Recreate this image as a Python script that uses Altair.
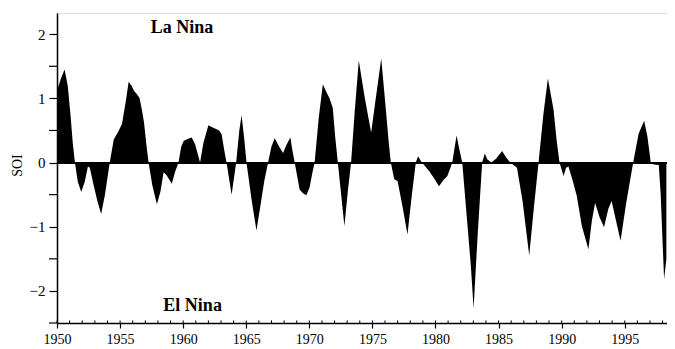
import altair as alt
import pandas as pd

years = [
    1950.0, 1950.3, 1950.6, 1950.85, 1951.08, 1951.25, 1951.42, 1951.65, 1951.92, 1952.2,
    1952.45, 1952.6, 1952.9, 1953.2, 1953.5, 1953.8, 1954.18, 1954.5, 1954.85, 1955.15,
    1955.45, 1955.68, 1955.9, 1956.1, 1956.35, 1956.55, 1956.75, 1956.9, 1957.1, 1957.26,
    1957.55, 1957.92, 1958.2, 1958.45, 1958.7, 1959.1, 1959.35, 1959.63, 1959.85, 1960.05,
    1960.4, 1960.68, 1960.95, 1961.34, 1961.6, 1962.0, 1962.3, 1962.65, 1962.85, 1963.05,
    1963.25, 1963.44, 1963.84, 1964.2, 1964.45, 1964.63, 1964.85, 1965.02, 1965.4, 1965.81,
    1966.1, 1966.42, 1966.73, 1967.0, 1967.26, 1967.6, 1967.92, 1968.2, 1968.5, 1968.65,
    1968.84, 1969.23, 1969.5, 1969.76, 1970.02, 1970.25, 1970.42, 1970.75, 1971.07, 1971.35,
    1971.6, 1971.86, 1972.05, 1972.26, 1972.78, 1973.05, 1973.31, 1973.6, 1973.92, 1974.4,
    1974.9, 1975.3, 1975.7, 1976.07, 1976.3, 1976.46, 1976.73, 1977.0, 1977.4, 1977.78,
    1978.1, 1978.44, 1978.62, 1978.85, 1979.06, 1979.49, 1979.9, 1980.28, 1980.6, 1980.94,
    1981.15, 1981.33, 1981.67, 1981.9, 1982.12, 1982.52, 1982.8, 1983.02, 1983.35, 1983.7,
    1983.91, 1984.1, 1984.43, 1984.8, 1985.28, 1985.6, 1985.93, 1986.46, 1986.9, 1987.43,
    1987.8, 1988.17, 1988.55, 1988.91, 1989.15, 1989.36, 1989.6, 1989.83, 1990.15, 1990.35,
    1990.54, 1990.9, 1991.2, 1991.6, 1992.12, 1992.4, 1992.65, 1993.0, 1993.36, 1993.7,
    1993.96, 1994.3, 1994.67, 1995.1, 1995.67, 1996.1, 1996.54, 1996.8, 1997.06, 1997.3,
    1997.7, 1997.85, 1998.12, 1998.3,
]
soi = [
    1.12, 1.3, 1.45, 1.2, 0.72, 0.3, 0.0, -0.3, -0.46, -0.3,
    -0.06, -0.08, -0.35, -0.6, -0.8, -0.5, 0.0, 0.36, 0.48, 0.6,
    0.95, 1.26, 1.2, 1.12, 1.06, 1.0, 0.8, 0.62, 0.25, 0.0,
    -0.35, -0.65, -0.45, -0.15, -0.2, -0.33, -0.15, 0.0, 0.25, 0.34,
    0.37, 0.39, 0.28, 0.0, 0.3, 0.58, 0.55, 0.52, 0.5, 0.44,
    0.2, 0.0, -0.5, 0.0, 0.5, 0.74, 0.35, 0.0, -0.55, -1.06,
    -0.7, -0.3, 0.0, 0.25, 0.38, 0.25, 0.15, 0.28, 0.39, 0.2,
    0.0, -0.42, -0.48, -0.51, -0.39, -0.15, 0.0, 0.7, 1.22, 1.1,
    1.0, 0.85, 0.4, 0.0, -0.99, -0.45, 0.0, 0.8, 1.59, 1.0,
    0.47, 1.05, 1.62, 0.82, 0.3, 0.0, -0.26, -0.29, -0.7, -1.12,
    -0.55, 0.0, 0.1, 0.02, -0.03, -0.13, -0.25, -0.37, -0.28, -0.21,
    -0.1, 0.0, 0.42, 0.2, 0.0, -0.94, -1.6, -2.27, -1.1, 0.0,
    0.14, 0.05, 0.0, 0.06, 0.18, 0.08, 0.0, -0.08, -0.6, -1.45,
    -0.7, 0.0, 0.75, 1.31, 1.05, 0.82, 0.35, 0.0, -0.21, -0.08,
    -0.06, -0.3, -0.52, -0.99, -1.35, -0.9, -0.63, -0.85, -1.01, -0.72,
    -0.6, -0.9, -1.22, -0.65, 0.0, 0.45, 0.65, 0.4, 0.0, -0.03,
    -0.04, -0.5, -1.82, -1.5,
]

x_major = [1950, 1955, 1960, 1965, 1970, 1975, 1980, 1985, 1990, 1995]
x_minor = list(range(1950, 1999))
y_major = [-2, -1, 0, 1, 2]
y_minor = [-2.5, -1.5, -0.5, 0.5, 1.5]
notes = ["La Nina", "El Nina"]
note_x = [1959.9, 1960.75]
note_y = [2.09, -2.23]

XDOM = [1950, 1998.35]
YDOM = [-2.5, 2.33]
FONT = "Liberation Serif"

df = pd.DataFrame({"year": years, "soi": soi})
xminor_df = pd.DataFrame({"year": x_minor})
yminor_df = pd.DataFrame({"v": y_minor})
notes_df = pd.DataFrame({"text": notes, "x": note_x, "y": note_y})

xscale = alt.Scale(domain=XDOM, nice=False, zero=False)
yscale = alt.Scale(domain=YDOM, nice=False, zero=False)

area = alt.Chart(df).mark_area(color="black", interpolate="linear").encode(
    x=alt.X("year:Q", scale=xscale,
            axis=alt.Axis(values=x_major, format="d", title=None, grid=False,
                          tickSize=5, tickColor="black", tickWidth=1.2,
                          domainColor="black", domainWidth=1.5,
                          labelFont=FONT, labelFontSize=14, labelColor="black",
                          labelPadding=4, labelFlush=False, labelOverlap=False)),
    y=alt.Y("soi:Q", scale=yscale,
            axis=alt.Axis(values=y_major, format="d", title="SOI", grid=False,
                          tickSize=8, tickColor="black", tickWidth=1.2,
                          domainColor="black", domainWidth=1.5,
                          labelFont=FONT, labelFontSize=15, labelColor="black",
                          labelPadding=4, labelFlush=False, labelOverlap=False,
                          titleFont=FONT, titleFontSize=14, titleFontWeight="normal",
                          titleColor="black", titleAngle=-90, titleX=-36, titleY=152,
                          titleAlign="center", titleBaseline="alphabetic")),
    y2=alt.datum(0),
)

zero = alt.Chart(df).mark_rule(color="black", strokeWidth=1).encode(
    x=alt.datum(XDOM[0]), x2=alt.datum(XDOM[1]), y=alt.datum(0)
)

xminor = alt.Chart(xminor_df).mark_rule(color="black", strokeWidth=1).encode(
    x=alt.X("year:Q", scale=xscale), y=alt.datum(-2.5), y2=alt.datum(-2.46)
)

yminor = alt.Chart(yminor_df).mark_rule(color="black", strokeWidth=1.2).encode(
    y=alt.Y("v:Q", scale=yscale), x=alt.value(-8), x2=alt.value(0)
)

text = alt.Chart(notes_df).mark_text(font=FONT, fontSize=18, fontWeight="bold",
                                     color="black").encode(
    x=alt.X("x:Q", scale=xscale), y=alt.Y("y:Q", scale=yscale), text="text:N"
)

chart = alt.layer(area, zero, xminor, yminor, text).properties(
    width=610, height=310,
    autosize="none",
    padding={"left": 49, "top": 5, "right": 0, "bottom": 25},
).configure_view(stroke=None, clip=False).configure(
    background="white", font=FONT
).configure_axis(labelFont=FONT, titleFont=FONT, labelColor="black", titleColor="black")

chart.save("out.html", embed_options={"renderer": "svg", "actions": False})
